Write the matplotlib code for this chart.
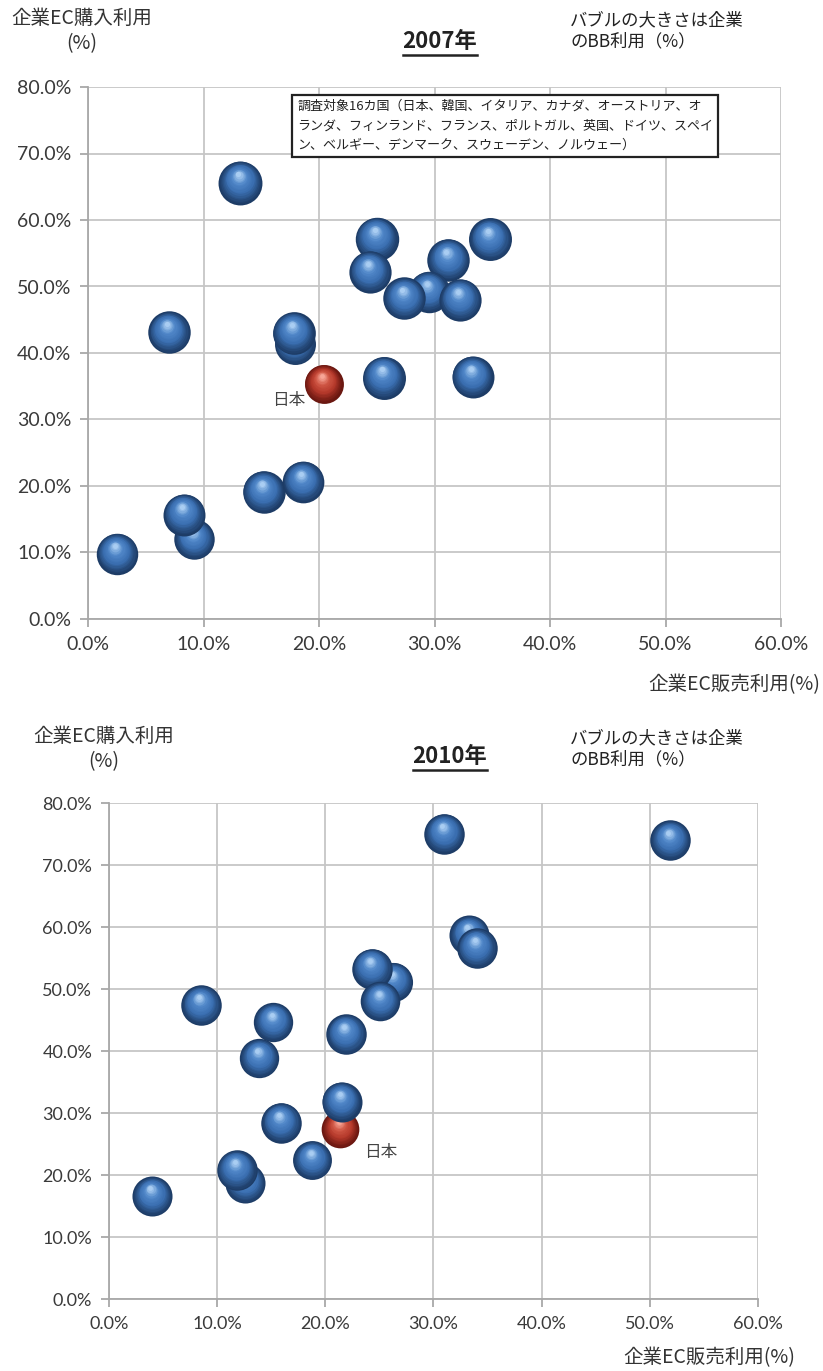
import numpy as np
import matplotlib
matplotlib.use("Agg")
import matplotlib.pyplot as plt
from matplotlib.colors import LinearSegmentedColormap
from matplotlib.lines import Line2D
from matplotlib.ticker import FuncFormatter, MultipleLocator
from matplotlib.transforms import offset_copy

plt.rcParams['font.family'] = ['Noto Sans CJK JP', 'DejaVu Sans']

# 2007: EC sales use (x), EC purchase use (y), BB use (bubble size), %
sales_2007 = [13.2, 25.0, 34.8, 31.2, 24.4, 29.5, 27.4, 32.2, 7.0, 17.9, 17.8,
              25.6, 33.3, 2.5, 9.2, 8.3, 15.2, 18.6]
buy_2007 = [65.6, 57.2, 57.1, 54.0, 52.2, 49.2, 48.2, 48.0, 43.1, 41.3, 43.0,
            36.3, 36.4, 9.8, 12.0, 15.7, 19.1, 20.6]
bb_2007 = [92, 90, 88, 86, 85, 82, 86, 85, 86, 80, 87,
           88, 84, 82, 78, 84, 86, 83]
jp_2007 = (20.4, 35.4, 72)

# 2010
sales_2010 = [31.0, 51.9, 33.3, 34.0, 26.3, 24.3, 25.1, 8.5, 15.2, 21.9,
              13.9, 15.9, 18.8, 12.6, 11.8, 4.0]
buy_2010 = [75.0, 74.0, 58.7, 56.6, 51.2, 53.3, 48.0, 47.4, 44.6, 42.7,
            38.8, 28.4, 22.4, 18.7, 20.8, 16.6]
bb_2010 = [90, 90, 88, 90, 84, 90, 86, 90, 85, 90,
           85, 90, 83, 88, 90, 88]
jp_2010 = (21.4, 27.4, 78)
blue_2010_late = [(21.5, 31.8, 88)]  # drawn over Japan

note = ("調査対象16カ国（日本、韓国、イタリア、カナダ、オーストリア、オ\n"
        "ランダ、フィンランド、フランス、ポルトガル、英国、ドイツ、スペイ\n"
        "ン、ベルギー、デンマーク、スウェーデン、ノルウェー）")

W, H = 823, 1371
fig = plt.figure(figsize=(W / 100, H / 100), dpi=100)
fig.patch.set_facecolor('white')


def fx(px):
    return px / W


def fy(py):
    return 1 - py / H


blue = LinearSegmentedColormap.from_list('b', ['#1d3c66', '#3a6eb0', '#4f86c8', '#a9cdf2'])
red = LinearSegmentedColormap.from_list('r', ['#6a1710', '#b3382a', '#cf5644', '#f7a596'])

zc = [3]


def ball(ax, x, y, s, cmap):
    r = np.sqrt(s) / 2
    n = 16
    for i in range(n):
        t = i / (n - 1)
        k = 1 - 0.88 * t
        off = r * 0.38 * t
        tr = offset_copy(ax.transData, fig=ax.figure, x=-0.25 * off, y=off, units='points')
        ax.scatter([x], [y], s=s * k * k, color=cmap(t ** 1.2), transform=tr,
                   linewidths=0, zorder=zc[0], clip_on=False)
        zc[0] += 0.001
    zc[0] += 0.01


def panel(ax, xs, ys, bbs, jp, late, smax, fs):
    ax.set_xlim(0, 60)
    ax.set_ylim(0, 80)
    ax.xaxis.set_major_locator(MultipleLocator(10))
    ax.yaxis.set_major_locator(MultipleLocator(10))
    fmt = FuncFormatter(lambda v, p: f'{v:.1f}%')
    ax.xaxis.set_major_formatter(fmt)
    ax.yaxis.set_major_formatter(fmt)
    ax.grid(True, color='#c6c6c6', lw=1.3)
    ax.set_axisbelow(True)
    for sp in ['top', 'right']:
        ax.spines[sp].set_visible(False)
    for sp in ['left', 'bottom']:
        ax.spines[sp].set_color('#a8a8a8')
        ax.spines[sp].set_linewidth(1.3)
    ax.tick_params(length=6, width=1.3, color='#a8a8a8', labelcolor='#3a3a3a',
                   labelsize=fs, pad=6)
    for lb in ax.get_xticklabels() + ax.get_yticklabels():
        lb.set_family('Lato')
    top = max(bbs + [jp[2]])
    order = list(zip(xs, ys, bbs))
    if late:
        ball(ax, jp[0], jp[1], jp[2] / top * smax, red)
        for x, y, b in order:
            ball(ax, x, y, b / top * smax, blue)
        for x, y, b in late:
            ball(ax, x, y, b / top * smax, blue)
    else:
        for x, y, b in order:
            ball(ax, x, y, b / top * smax, blue)
        ball(ax, jp[0], jp[1], jp[2] / top * smax, red)


ax1 = fig.add_axes([fx(88), fy(619), (781 - 88) / W, (619 - 87) / H])
ax2 = fig.add_axes([fx(109), fy(1299), (758 - 109) / W, (1299 - 803) / H])

panel(ax1, sales_2007, buy_2007, bb_2007, jp_2007, None, 1000, 14)
panel(ax2, sales_2010, buy_2010, bb_2010, jp_2010, blue_2010_late, 850, 13)

ax1.annotate('日本', xy=jp_2007[:2], xytext=(-25, -12), textcoords='offset points',
             ha='center', va='center', fontsize=12, color='#444444')
ax2.annotate('日本', xy=jp_2010[:2], xytext=(29, -17), textcoords='offset points',
             ha='center', va='center', fontsize=12, color='#444444')

txt = '#333333'
titles = []
for cy, ycy, xl_y, xl_x, title, tx, ylx in [(42, 31, 685, 820, '2007年', 440, 82),
                                             (757, 749, 1358, 795, '2010年', 450, 104)]:
    fig.text(fx(ylx), fy(ycy), '企業EC購入利用\n(%)', ha='center', va='center',
             fontsize=14, color=txt, linespacing=1.3)
    titles.append(fig.text(fx(tx), fy(cy), title, ha='center', va='center',
                           fontsize=16, fontweight='bold', color='#222222'))
    fig.text(fx(570), fy(ycy), 'バブルの大きさは企業\nのBB利用（%）', ha='left',
             va='center', fontsize=12.5, color='#222222', linespacing=1.2)
    fig.text(fx(xl_x), fy(xl_y), '企業EC販売利用(%)', ha='right', va='center',
             fontsize=14, color=txt)

fig.text(fx(297), fy(100), note, ha='left', va='top', fontsize=9.4, color='#222222',
         linespacing=1.65,
         bbox=dict(boxstyle='square,pad=0.35', fc='white', ec='#222222', lw=1.6))

fig.canvas.draw()
rend = fig.canvas.get_renderer()
for t in titles:
    bb = t.get_window_extent(rend).transformed(fig.transFigure.inverted())
    fig.add_artist(Line2D([bb.x0, bb.x1], [bb.y0 - 0.001, bb.y0 - 0.001],
                          transform=fig.transFigure, color='#222222', lw=1.8))

fig.savefig('out.png', dpi=100, facecolor='white')
